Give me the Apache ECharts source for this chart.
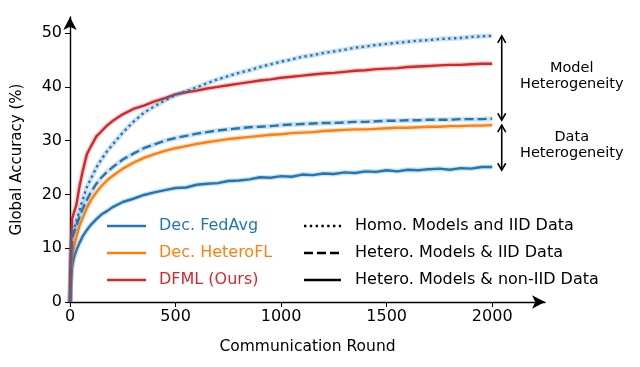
<!DOCTYPE html>
<html>
<head>
<meta charset="utf-8">
<script src="https://cdn.jsdelivr.net/npm/echarts@6/dist/echarts.min.js"></script>
<style>
  html, body { margin: 0; background: #fff; }
  #chart { width: 640px; height: 367px; }
</style>
</head>
<body>
<div id="chart"></div>
<script>
// communication rounds (x)
const rounds = [0, 5, 10, 20, 30, 45, 60, 80, 100, 125, 150, 175, 200, 250, 300, 350, 400, 450, 500,
  550, 600, 650, 700, 750, 800, 850, 900, 950, 1000, 1050, 1100, 1150, 1200, 1250, 1300, 1350, 1400,
  1450, 1500, 1550, 1600, 1650, 1700, 1750, 1800, 1850, 1900, 1950, 2000];

// Dec. FedAvg, homo. models + IID data (dotted)
const fedAvgHomoIID = [0, 9, 12.3, 13.8, 15, 17, 19, 21.4, 23, 25, 26.6, 28, 29.2, 31.5, 33.5, 35.2, 36.4, 37.5, 38.5,
  39.2, 39.9, 40.7, 41.4, 42, 42.6, 43.1, 43.7, 44.2, 44.7, 45.1, 45.6, 45.9, 46.3, 46.6, 46.9, 47.3, 47.5,
  47.8, 48, 48.2, 48.4, 48.6, 48.7, 48.9, 49, 49.1, 49.3, 49.4, 49.5];

// Dec. FedAvg, hetero. models + IID data (dashed)
const fedAvgHeteroIID = [0, 8.5, 11.8, 13, 14.2, 15.8, 17.3, 19, 20.5, 22, 23.2, 24.2, 25, 26.5, 27.6, 28.6, 29.3, 30, 30.5,
  30.9, 31.3, 31.6, 31.9, 32.1, 32.3, 32.5, 32.6, 32.7, 32.9, 33, 33.1, 33.2, 33.3, 33.3, 33.4, 33.5, 33.5,
  33.6, 33.7, 33.7, 33.8, 33.8, 33.9, 33.9, 33.9, 34, 34, 34, 34.1];

// hetero. models + non-IID data (solid)
const fedAvg = [0, 4.5, 6.6, 8.4, 9.6, 11, 12.2, 13.4, 14.4, 15.4, 16.3, 16.9, 17.6, 18.6, 19.2, 19.9, 20.4, 20.8, 21.2,
  21.3, 21.8, 22, 22.1, 22.5, 22.6, 22.8, 23.2, 23.1, 23.4, 23.3, 23.7, 23.6, 23.9, 23.8, 24.1, 24, 24.3,
  24.2, 24.5, 24.3, 24.6, 24.5, 24.7, 24.8, 24.6, 24.9, 24.8, 25.1, 25.1];
const heteroFL = [0, 5.5, 8.4, 10.5, 12, 14.2, 15.6, 17.5, 19, 20.4, 21.6, 22.6, 23.4, 24.8, 25.9, 26.8, 27.5, 28.1, 28.6,
  29, 29.4, 29.7, 30, 30.3, 30.5, 30.7, 30.9, 31.1, 31.2, 31.4, 31.5, 31.6, 31.8, 31.9, 32, 32.1, 32.1,
  32.2, 32.3, 32.4, 32.4, 32.5, 32.6, 32.6, 32.7, 32.7, 32.8, 32.8, 32.9];
const dfml = [0, 11, 15.5, 16.8, 18, 21.5, 24.3, 27.5, 29, 30.8, 31.8, 32.8, 33.6, 34.9, 35.9, 36.5, 37.3, 37.9, 38.6,
  39, 39.3, 39.7, 40, 40.3, 40.6, 40.9, 41.2, 41.4, 41.7, 41.9, 42.1, 42.3, 42.5, 42.6, 42.8, 43, 43.1,
  43.3, 43.4, 43.5, 43.7, 43.8, 43.9, 44, 44.1, 44.1, 44.2, 44.3, 44.3];

const xTicks = [0, 500, 1000, 1500, 2000];
const yTicks = [0, 10, 20, 30, 40, 50];

const BLUE = '#1f77b4';
const ORANGE = '#ff7f0e';
const RED = '#d62728';
const FONT = 'DejaVu Sans';

const chart = echarts.init(document.getElementById('chart'));

function pairs(vals) {
  return rounds.map((r, i) => [r, vals[i]]);
}

// a faint wide band under the line, then the line itself
function curve(vals, color, type, z) {
  return [
    {
      type: 'line', data: pairs(vals), symbol: 'none', silent: true, z: z,
      lineStyle: { color: color, width: 5, opacity: 0.22 }
    },
    {
      type: 'line', data: pairs(vals), symbol: 'none', silent: true, z: z + 1,
      lineStyle: { color: color, width: 2.4, type: type }
    }
  ];
}

const option = {
  animation: false,
  grid: { left: 70, right: 95, top: 17, bottom: 65 },
  xAxis: {
    type: 'value', min: 0, max: 2250,
    name: 'Communication Round', nameLocation: 'middle', nameGap: 37,
    nameTextStyle: { fontFamily: FONT, fontSize: 15.5, color: '#000' },
    axisLine: { lineStyle: { color: '#000', width: 1.4 }, symbol: ['none', 'arrow'], symbolSize: [10, 13] },
    axisTick: { customValues: xTicks, length: 5, lineStyle: { color: '#000', width: 1 } },
    axisLabel: { customValues: xTicks, formatter: v => String(v), fontFamily: FONT, fontSize: 16, color: '#000', margin: 7 },
    splitLine: { show: false }
  },
  yAxis: {
    type: 'value', min: 0, max: 53,
    name: 'Global Accuracy (%)', nameLocation: 'middle', nameGap: 45, nameRotate: 90,
    nameTextStyle: { fontFamily: FONT, fontSize: 15, color: '#000' },
    axisLine: { lineStyle: { color: '#000', width: 1.4 }, symbol: ['none', 'arrow'], symbolSize: [10, 13] },
    axisTick: { customValues: yTicks, length: 5, lineStyle: { color: '#000', width: 1 } },
    axisLabel: { customValues: yTicks, formatter: v => String(v), fontFamily: FONT, fontSize: 16, color: '#000', margin: 8 },
    splitLine: { show: false }
  },
  series: [].concat(
    curve(fedAvg, BLUE, 'solid', 2),
    curve(heteroFL, ORANGE, 'solid', 4),
    curve(fedAvgHeteroIID, BLUE, [9, 4], 6),
    curve(dfml, RED, 'solid', 8),
    curve(fedAvgHomoIID, BLUE, [2.4, 3.4], 10)
  )
};
chart.setOption(option);

// legend (drawn by hand: two columns)
const legendLeft = [['Dec. FedAvg', BLUE], ['Dec. HeteroFL', ORANGE], ['DFML (Ours)', RED]];
const legendRight = [['Homo. Models and IID Data', [2.4, 3.4]], ['Hetero. Models & IID Data', [9, 4]], ['Hetero. Models & non-IID Data', 'solid']];
const rowY = [226, 253, 280];
const graphics = [];
legendLeft.forEach((d, i) => {
  graphics.push({ type: 'line', shape: { x1: 107, y1: rowY[i], x2: 146, y2: rowY[i] }, style: { stroke: d[1], lineWidth: 2.4 } });
  graphics.push({ type: 'text', x: 159, y: rowY[i], style: { text: d[0], fill: d[1], font: '16px "DejaVu Sans"', textVerticalAlign: 'middle' } });
});
legendRight.forEach((d, i) => {
  graphics.push({ type: 'line', shape: { x1: 304, y1: rowY[i], x2: 341, y2: rowY[i] }, style: { stroke: '#000', lineWidth: 2.4, lineDash: d[1] === 'solid' ? null : d[1] } });
  graphics.push({ type: 'text', x: 355, y: rowY[i], style: { text: d[0], fill: '#000', font: '16px "DejaVu Sans"', textVerticalAlign: 'middle' } });
});

// double-headed arrows showing the gaps at the last round
const last = rounds.length - 1;
const arrowX = 2045;
function gapArrow(top, bottom, label) {
  const a = chart.convertToPixel({ gridIndex: 0 }, [arrowX, top]);
  const b = chart.convertToPixel({ gridIndex: 0 }, [arrowX, bottom]);
  const st = { stroke: '#000', lineWidth: 1.6, fill: null };
  graphics.push({ type: 'line', shape: { x1: a[0], y1: a[1], x2: b[0], y2: b[1] }, style: st });
  graphics.push({ type: 'polyline', shape: { points: [[a[0] - 4, a[1] + 7], [a[0], a[1]], [a[0] + 4, a[1] + 7]] }, style: st });
  graphics.push({ type: 'polyline', shape: { points: [[b[0] - 4, b[1] - 7], [b[0], b[1]], [b[0] + 4, b[1] - 7]] }, style: st });
  graphics.push({
    type: 'text', x: a[0] + 70, y: (a[1] + b[1]) / 2 - 2,
    style: { text: label, fill: '#000', font: '14.5px "DejaVu Sans"', textAlign: 'center', textVerticalAlign: 'middle', lineHeight: 16 }
  });
}
gapArrow(fedAvgHomoIID[last], fedAvgHeteroIID[last] - 0.3, 'Model\nHeterogeneity');
gapArrow(heteroFL[last], fedAvg[last] - 0.6, 'Data\nHeterogeneity');

chart.setOption({ graphic: graphics });
</script>
</body>
</html>
